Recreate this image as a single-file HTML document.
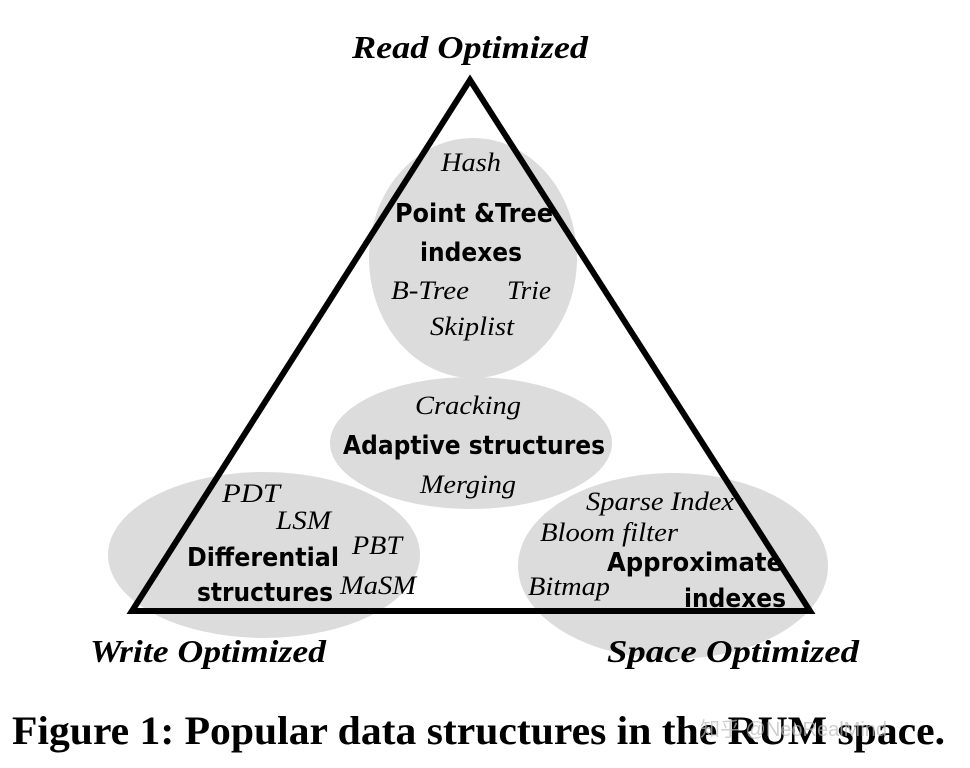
<!DOCTYPE html>
<html><head><style>html,body{margin:0;padding:0;background:#fff}svg{display:block}</style></head>
<body>
<svg width="970" height="768" viewBox="0 0 970 768" xmlns="http://www.w3.org/2000/svg">
<g fill="#dcdcdc">
<ellipse cx="473" cy="258" rx="104" ry="120"/>
<ellipse cx="471" cy="443" rx="141" ry="66"/>
<ellipse cx="264" cy="555" rx="156" ry="83"/>
<ellipse cx="673" cy="566" rx="155" ry="93"/>
</g>
<polygon points="470,80 132,611 810,611" fill="none" stroke="#000" stroke-width="6" stroke-linejoin="miter"/>
<g style="font-family:'Liberation Serif',serif;font-style:italic" fill="#000">
<text x="352" y="58" font-size="32" font-weight="bold" textLength="236" lengthAdjust="spacingAndGlyphs">Read Optimized</text>
<text x="90" y="662" font-size="32" font-weight="bold" textLength="236" lengthAdjust="spacingAndGlyphs">Write Optimized</text>
<text x="607" y="662" font-size="32" font-weight="bold" textLength="252" lengthAdjust="spacingAndGlyphs">Space Optimized</text>
<g font-size="26">
<text x="441" y="171" textLength="60" lengthAdjust="spacingAndGlyphs">Hash</text>
<text x="391" y="299" textLength="78" lengthAdjust="spacingAndGlyphs">B-Tree</text>
<text x="507" y="299" textLength="44" lengthAdjust="spacingAndGlyphs">Trie</text>
<text x="430" y="335" textLength="84" lengthAdjust="spacingAndGlyphs">Skiplist</text>
<text x="415" y="414" textLength="106" lengthAdjust="spacingAndGlyphs">Cracking</text>
<text x="420" y="493" textLength="96" lengthAdjust="spacingAndGlyphs">Merging</text>
<text x="222" y="502" textLength="58" lengthAdjust="spacingAndGlyphs">PDT</text>
<text x="276" y="529" textLength="55" lengthAdjust="spacingAndGlyphs">LSM</text>
<text x="352" y="554" textLength="50" lengthAdjust="spacingAndGlyphs">PBT</text>
<text x="340" y="594" textLength="76" lengthAdjust="spacingAndGlyphs">MaSM</text>
<text x="586" y="510" textLength="148" lengthAdjust="spacingAndGlyphs">Sparse Index</text>
<text x="540" y="541" textLength="138" lengthAdjust="spacingAndGlyphs">Bloom filter</text>
<text x="528" y="595" textLength="82" lengthAdjust="spacingAndGlyphs">Bitmap</text>
</g>
</g>
<g style="font-family:'DejaVu Sans','Liberation Sans',sans-serif;font-weight:bold" fill="#000" font-size="26">
<text x="395" y="222" textLength="158" lengthAdjust="spacingAndGlyphs">Point &amp;Tree</text>
<text x="420" y="261" textLength="102" lengthAdjust="spacingAndGlyphs">indexes</text>
<text x="343" y="454" textLength="262" lengthAdjust="spacingAndGlyphs">Adaptive structures</text>
<text x="187" y="566" textLength="152" lengthAdjust="spacingAndGlyphs">Differential</text>
<text x="197" y="601" textLength="136" lengthAdjust="spacingAndGlyphs">structures</text>
<text x="607" y="571" textLength="176" lengthAdjust="spacingAndGlyphs">Approximate</text>
<text x="684" y="607" textLength="102" lengthAdjust="spacingAndGlyphs">indexes</text>
</g>
<text x="12" y="744" style="font-family:'Liberation Serif',serif;font-weight:bold" font-size="40" textLength="933" lengthAdjust="spacingAndGlyphs">Figure 1: Popular data structures in the RUM space.</text>
<text x="700" y="736" style="font-family:'Liberation Sans','Noto Sans CJK SC',sans-serif" font-size="20" fill="#bbb" opacity="0.7">知乎 @NeoRealMind</text>
</svg>
</body></html>
